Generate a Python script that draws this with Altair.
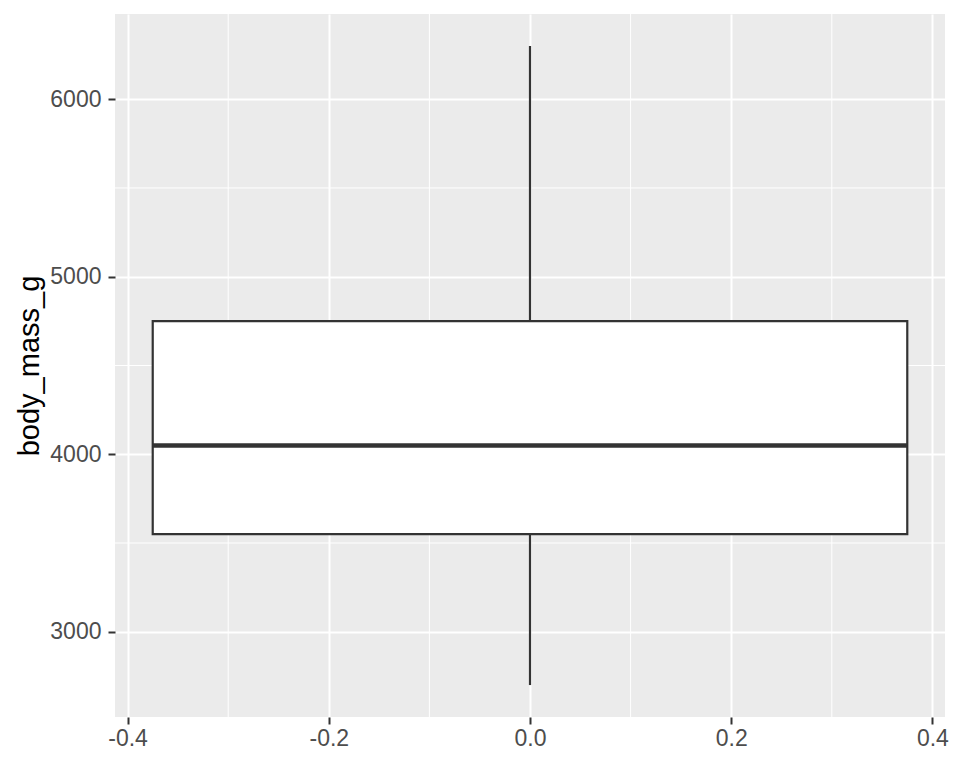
import altair as alt
import pandas as pd

# five-number summary of body_mass_g
stat_names = ["min", "q1", "median", "q3", "max"]
stat_values = [2700, 3550, 4050, 4750, 6300]
box_left = -0.375
box_right = 0.375
box_center = 0.0

x_ticks = [-0.4, -0.2, 0.0, 0.2, 0.4]
y_ticks = [3000, 4000, 5000, 6000]
x_minor = [-0.3, -0.1, 0.1, 0.3]
y_minor = [3500, 4500, 5500]

s = dict(zip(stat_names, stat_values))
box_df = pd.DataFrame({
    "x_lo": [box_left], "x_hi": [box_right], "x_mid": [box_center],
    "ymin": [s["min"]], "q1": [s["q1"]], "med": [s["median"]],
    "q3": [s["q3"]], "ymax": [s["max"]],
})
minor_x_df = pd.DataFrame({"v": x_minor})
minor_y_df = pd.DataFrame({"v": y_minor})

xs = alt.Scale(domain=[-0.4125, 0.4125], nice=False, zero=False)
ys = alt.Scale(domain=[2520, 6480], nice=False, zero=False)

FONT = "Liberation Sans"
xaxis = alt.Axis(values=x_ticks, labelExpr="replace(format(datum.value, '.1f'), '\u2212', '-')",
                 title=None, grid=True, gridColor="white", gridWidth=2,
                 domain=False, tickColor="#333333", tickWidth=2, tickSize=7,
                 labelFont=FONT, labelFontSize=23, labelColor="#4D4D4D", labelPadding=3)
yaxis = alt.Axis(values=y_ticks, format="d", title="body_mass_g", grid=True,
                 gridColor="white", gridWidth=2, domain=False, tickColor="#333333",
                 tickWidth=2, tickSize=7, labelFont=FONT, labelFontSize=23,
                 labelColor="#4D4D4D", labelPadding=7, titleFont=FONT,
                 titleFontSize=29, titleFontWeight="normal", titleColor="black",
                 titlePadding=5)

minor_v = alt.Chart(minor_x_df).mark_rule(color="white", strokeWidth=1).encode(
    x=alt.X("v:Q", scale=xs, axis=xaxis),
    y=alt.value(0), y2=alt.value(703),
)
minor_h = alt.Chart(minor_y_df).mark_rule(color="white", strokeWidth=1).encode(
    y=alt.Y("v:Q", scale=ys, axis=yaxis),
    x=alt.value(0), x2=alt.value(830),
)

base = alt.Chart(box_df)
whisk_hi = base.mark_rule(color="#333333", strokeWidth=2.2).encode(
    x=alt.X("x_mid:Q", scale=xs, axis=xaxis),
    y=alt.Y("q3:Q", scale=ys, axis=yaxis), y2="ymax:Q",
)
whisk_lo = base.mark_rule(color="#333333", strokeWidth=2.2).encode(
    x=alt.X("x_mid:Q", scale=xs, axis=xaxis),
    y=alt.Y("ymin:Q", scale=ys, axis=yaxis), y2="q1:Q",
)
box = base.mark_rect(fill="white", stroke="#333333", strokeWidth=2.2).encode(
    x=alt.X("x_lo:Q", scale=xs, axis=xaxis), x2="x_hi:Q",
    y=alt.Y("q1:Q", scale=ys, axis=yaxis), y2="q3:Q",
)
median = base.mark_rule(color="#333333", strokeWidth=4.5).encode(
    x=alt.X("x_lo:Q", scale=xs, axis=xaxis), x2="x_hi:Q",
    y=alt.Y("med:Q", scale=ys, axis=yaxis),
)

chart = alt.layer(minor_v, minor_h, whisk_hi, whisk_lo, box, median).properties(
    width=830, height=703,
    autosize=alt.AutoSizeParams(type="none"),
    padding={"left": 107, "top": 6, "right": 7, "bottom": 44},
).configure_view(fill="#EBEBEB", stroke=None)

chart.save("out.html", embed_options={"renderer": "svg", "actions": False})
